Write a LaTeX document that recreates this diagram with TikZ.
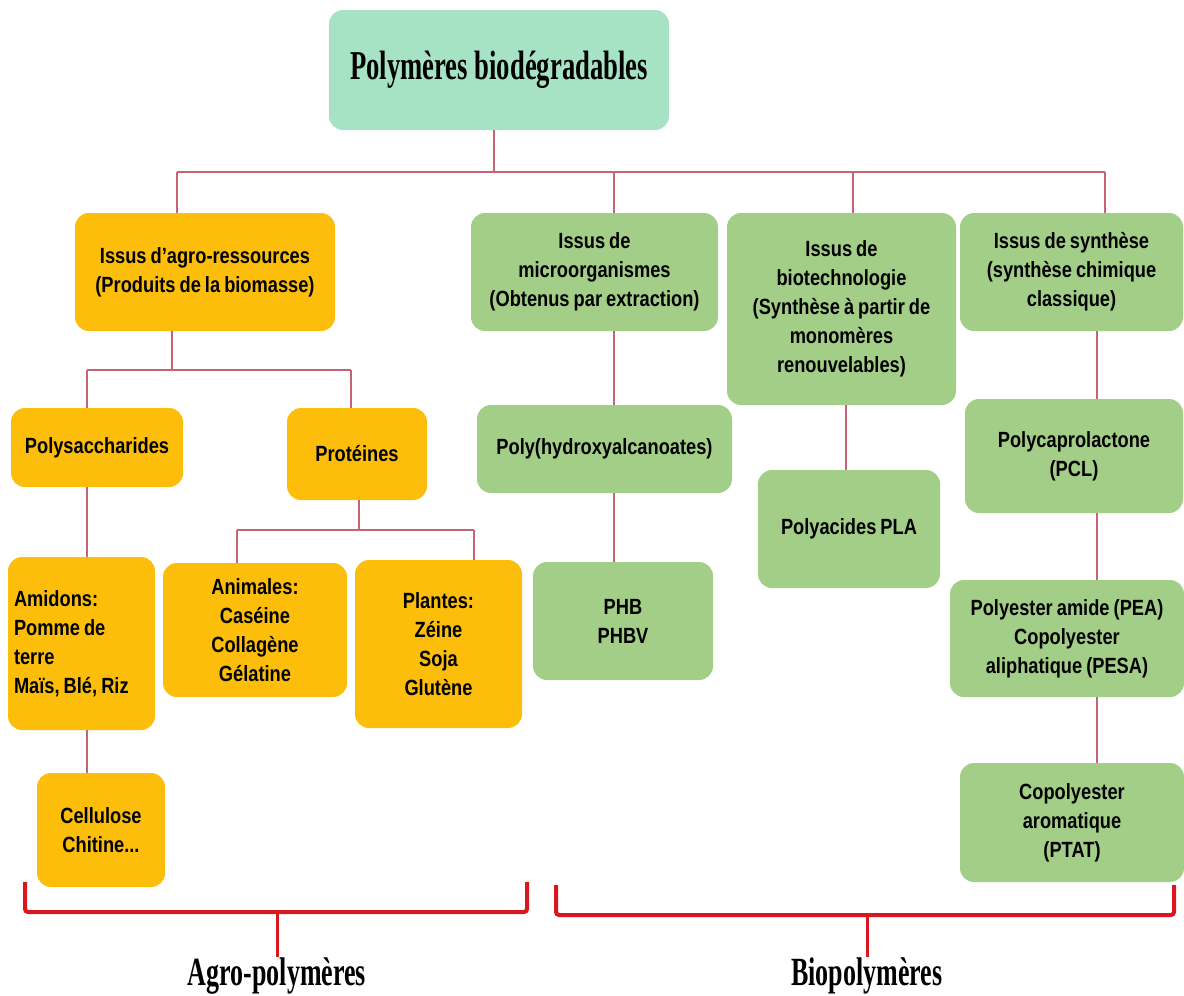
\documentclass[tikz,border=0pt]{standalone}
\usepackage{fontspec}
\setmainfont{Liberation Sans}[FakeStretch=0.83,WordSpace=0.8]
\newfontfamily\titrefont{Liberation Serif}[FakeStretch=0.65]
\usepackage{tikz}
\usetikzlibrary{calc}

\definecolor{menthe}{RGB}{166,226,196}
\definecolor{orangebox}{RGB}{252,190,10}
\definecolor{vertbox}{RGB}{163,206,136}
\definecolor{trait}{RGB}{196,100,118}
\definecolor{accolade}{RGB}{218,22,30}

\tikzset{
  boite/.style={rectangle, rounded corners=14pt, inner sep=0pt, align=center,
    font=\fontsize{22}{29}\selectfont\bfseries},
  agro/.style={boite, fill=orangebox},
  bio/.style={boite, fill=vertbox},
  lien/.style={draw=trait, line width=1.1pt},
  brace/.style={draw=accolade, line width=4pt, rounded corners=3pt},
  legende/.style={inner sep=0pt, anchor=north, font=\titrefont\fontsize{40}{44}\selectfont\bfseries}
}

\begin{document}
\begin{tikzpicture}[x=1pt,y=-1pt]
            \useasboundingbox (0,0) rectangle (1184,996);
            % titre
            \node[boite, fill=menthe, minimum width=340pt, minimum height=120pt,
              font=\titrefont\fontsize{41}{44}\selectfont\bfseries] (titre) at (499,70) {Polymères biodégradables};
            % deuxieme rang
            \node[agro, minimum width=260pt, minimum height=118pt] (agr) at (205,272)
              {Issus d’agro-ressources\\(Produits de la biomasse)};
            \node[bio, minimum width=247pt, minimum height=118pt] (micro) at (594.5,272)
              {Issus de\\microorganismes\\(Obtenus par extraction)};
            \node[bio, minimum width=229pt, minimum height=192pt] (biotech) at (841.5,309)
              {Issus de\\biotechnologie\\(Synthèse à partir de\\monomères\\renouvelables)};
            \node[bio, minimum width=223pt, minimum height=118pt] (synth) at (1071.5,272)
              {Issus de synthèse\\(synthèse chimique\\classique)};
            % troisieme rang
            \node[agro, minimum width=172pt, minimum height=79pt] (poly) at (97,447.5) {Polysaccharides};
            \node[agro, minimum width=140pt, minimum height=92pt] (prot) at (357,454) {Protéines};
            \node[bio, minimum width=255pt, minimum height=88pt] (pha) at (604.5,449) {Poly(hydroxyalcanoates)};
            \node[bio, minimum width=182pt, minimum height=118pt] (pla) at (849,529) {Polyacides PLA};
            \node[bio, minimum width=218pt, minimum height=114pt] (pcl) at (1074,456) {Polycaprolactone\\(PCL)};
            % quatrieme rang
            \node[agro, minimum width=147pt, minimum height=173pt, align=flush left, text width=135pt] (amid) at (81.5,643.5)
              {Amidons:\\Pomme de\\terre\\Maïs, Blé, Riz};
            \node[agro, minimum width=184pt, minimum height=134pt] (anim) at (255,630)
              {Animales:\\Caséine\\Collagène\\Gélatine};
            \node[agro, minimum width=167pt, minimum height=168pt] (plant) at (438.5,644)
              {Plantes:\\Zéine\\Soja\\Glutène};
            \node[bio, minimum width=180pt, minimum height=118pt] (phb) at (623,621) {PHB\\PHBV};
            \node[bio, minimum width=234pt, minimum height=117pt] (pea) at (1067,638.5)
              {Polyester amide (PEA)\\Copolyester\\aliphatique (PESA)};
            % cinquieme rang
            \node[agro, minimum width=128pt, minimum height=114pt] (cell) at (101,830) {Cellulose\\Chitine...};
            \node[bio, minimum width=224pt, minimum height=119pt] (ptat) at (1072,822.5)
              {Copolyester\\aromatique\\(PTAT)};

            % liaisons du titre
            \coordinate (b1) at (177,172);
            \coordinate (b2) at (614,172);
            \coordinate (b3) at (853,172);
            \coordinate (b4) at (1105,172);
            \draw[lien] (titre.south -| 494,0) -- (494,172);
            \draw[lien] (b1) -- (b4);
            \foreach \b/\n in {b1/agr,b2/micro,b3/biotech,b4/synth} {
                \draw[lien] (\b) -- (\b |- \n.north);
            }
            % agro-ressources
            \coordinate (a0) at (172,370);
            \coordinate (a1) at (87,370);
            \coordinate (a2) at (351,370);
            \draw[lien] (a0 |- agr.south) -- (a0);
            \draw[lien] (a1) -- (a2);
            \draw[lien] (a1) -- (a1 |- poly.north);
            \draw[lien] (a2) -- (a2 |- prot.north);
            % proteines
            \coordinate (p0) at (359,530);
            \coordinate (p1) at (237,530);
            \coordinate (p2) at (474,530);
            \draw[lien] (p0 |- prot.south) -- (p0);
            \draw[lien] (p1) -- (p2);
            \draw[lien] (p1) -- (p1 |- anim.north);
            \draw[lien] (p2) -- (p2 |- plant.north);
            % chaines verticales
            \foreach \x/\haut/\bas in {87/poly/amid,87/amid/cell,614/micro/pha,614/pha/phb,
                                        846/biotech/pla,1097/synth/pcl,1097/pcl/pea,1097/pea/ptat} {
                \draw[lien] (\x,0 |- \haut.south) -- (\x,0 |- \bas.north);
            }

            % accolades
            \node[legende] (lagro) at (277,957) {Agro-polymères};
            \node[legende] (lbio) at (867,957) {Biopolymères};
            \coordinate (pa) at (277,912);
            \coordinate (pb) at (867,915);
            \draw[brace] (25,882) -- (25,912) -- (527,912) -- (527,882);
            \draw[brace] (556,885) -- (556,915) -- (1174,915) -- (1174,885);
            \draw[draw=accolade, line width=3pt] (pa) -- (lagro.north);
            \draw[draw=accolade, line width=3pt] (pb) -- (lbio.north);
        \end{tikzpicture}
\end{document}
